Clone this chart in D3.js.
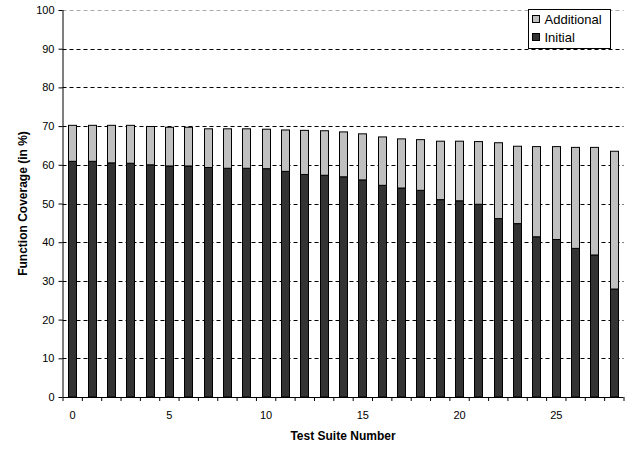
<!DOCTYPE html>
<html>
<head>
<meta charset="utf-8">
<script src="https://cdn.jsdelivr.net/npm/d3@7"></script>
<style>
  html, body { margin: 0; padding: 0; background: #fff; }
  svg { display: block; font-family: "Liberation Sans", Arial, sans-serif; }
</style>
</head>
<body>
<svg id="chart" width="641" height="450"></svg>
<script>
// ---- data ----
const suites = d3.range(0, 29);
const initial = [60.9, 60.9, 60.5, 60.4, 60.0, 59.7, 59.7, 59.3, 59.1, 59.1,
                 59.0, 58.3, 57.5, 57.3, 56.9, 56.1, 54.7, 54.0, 53.4, 51.0,
                 50.7, 49.8, 46.1, 44.8, 41.4, 40.7, 38.4, 36.7, 27.9];
const additional = [9.3, 9.3, 9.7, 9.8, 9.9, 10.0, 10.0, 10.0, 10.2, 10.2,
                    10.2, 10.7, 11.4, 11.5, 11.6, 11.9, 12.5, 12.7, 13.1, 15.1,
                    15.4, 16.2, 19.6, 20.0, 23.3, 24.0, 26.1, 27.8, 35.6];
const xTickLabels = [0, 5, 10, 15, 20, 25];
const yTicks = [0, 10, 20, 30, 40, 50, 60, 70, 80, 90, 100];
const seriesNames = ["Additional", "Initial"];
const seriesColors = ["#c0c0c0", "#333333"];

(function () {
// ---- layout ----
const svg = d3.select("#chart");
const pL = 62.5, pR = 623.5, pT = 10, pB = 397;

const x = d3.scaleBand().domain(suites).range([pL, pR]).padding(0);
const xl = d3.scaleLinear().domain([-0.5, 28.5]).range([pL, pR]);
const y = d3.scaleLinear().domain([0, 100]).range([pB, pT]);

// gridlines
svg.append("g").selectAll("line")
  .data(yTicks.filter(d => d > 0))
  .join("line")
  .attr("x1", pL).attr("x2", pR)
  .attr("y1", d => Math.round(y(d)) + 0.5).attr("y2", d => Math.round(y(d)) + 0.5)
  .attr("stroke", d => d === 100 ? "#aaa" : "#000")
  .attr("stroke-width", 1)
  .attr("stroke-dasharray", "4,3");

// bars
const bw = 8;
const data = suites.map((s, i) => ({ s, init: initial[i], add: additional[i] }));
const gBars = svg.append("g");
gBars.selectAll("rect.init").data(data).join("rect")
  .attr("class", "init")
  .attr("x", d => Math.round(x(d.s) + (x.bandwidth() - bw) / 2) + 0.5)
  .attr("width", bw)
  .attr("y", d => y(d.init))
  .attr("height", d => y(0) - y(d.init))
  .attr("fill", seriesColors[1])
  .attr("stroke", "#000").attr("stroke-width", 1);
gBars.selectAll("rect.add").data(data).join("rect")
  .attr("class", "add")
  .attr("x", d => Math.round(x(d.s) + (x.bandwidth() - bw) / 2) + 0.5)
  .attr("width", bw)
  .attr("y", d => y(d.init + d.add))
  .attr("height", d => y(d.init) - y(d.init + d.add))
  .attr("fill", seriesColors[0])
  .attr("stroke", "#000").attr("stroke-width", 1);

// y axis
const yAxis = svg.append("g")
  .attr("transform", `translate(${pL},0)`)
  .call(d3.axisLeft(y).tickValues(yTicks).tickSize(4).tickPadding(4));
yAxis.selectAll("text").attr("font-size", 11).attr("fill", "#000")
  .attr("font-family", "Liberation Sans, Arial, sans-serif");
yAxis.selectAll("line, path").attr("stroke", "#000");
yAxis.select("path").attr("d", `M0.5,${pB}V${pT}`);

// x axis: boundary ticks
const xAxisTicks = svg.append("g")
  .attr("transform", `translate(0,${pB})`)
  .call(d3.axisBottom(xl).tickValues(d3.range(-0.5, 29, 1)).tickSize(4).tickFormat(""));
xAxisTicks.selectAll("line, path").attr("stroke", "#000");
xAxisTicks.select("path").attr("d", `M${pL},0.5H${pR}`);

// x axis labels
const xAxisLabels = svg.append("g")
  .attr("transform", `translate(0,${pB})`)
  .call(d3.axisBottom(xl).tickValues(xTickLabels).tickSize(0).tickPadding(14));
xAxisLabels.select("path").remove();
xAxisLabels.selectAll("text").attr("font-size", 11).attr("fill", "#000")
  .attr("font-family", "Liberation Sans, Arial, sans-serif");

// axis titles
svg.append("text")
  .attr("transform", `translate(27,${(pT + pB) / 2}) rotate(-90)`)
  .attr("text-anchor", "middle")
  .attr("font-size", 12).attr("font-weight", "bold")
  .text("Function Coverage (in %)");
svg.append("text")
  .attr("x", (pL + pR) / 2).attr("y", 440)
  .attr("text-anchor", "middle")
  .attr("font-size", 12).attr("font-weight", "bold")
  .text("Test Suite Number");

// legend
const lg = svg.append("g").attr("transform", "translate(528.5,9.5)");
lg.append("rect").attr("width", 82).attr("height", 39)
  .attr("fill", "#fff").attr("stroke", "#000");
seriesNames.forEach((name, i) => {
  const row = lg.append("g").attr("transform", `translate(4,${6 + i * 18})`);
  row.append("rect").attr("width", 7).attr("height", 7)
    .attr("fill", seriesColors[i]).attr("stroke", "#000");
  row.append("text").attr("x", 12).attr("y", 8)
    .attr("font-size", 13).attr("fill", "#000").text(name);
});
})();
</script>
</body>
</html>
